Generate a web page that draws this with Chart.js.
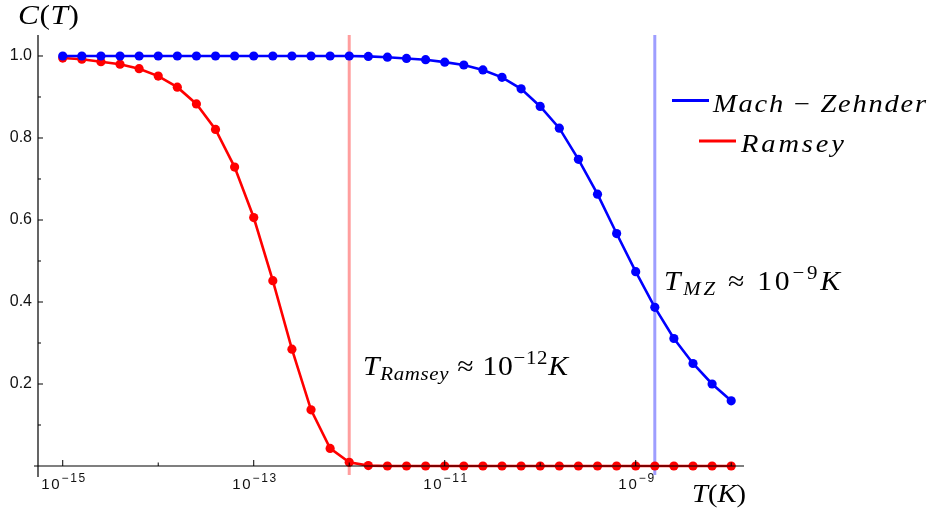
<!DOCTYPE html>
<html>
<head>
<meta charset="utf-8">
<script src="https://cdn.jsdelivr.net/npm/chart.js@4.4.1/dist/chart.umd.min.js"></script>
<style>
html,body{margin:0;padding:0;background:#fff;}
#wrap{width:932px;height:510px;position:relative;}
</style>
</head>
<body>
<div id="wrap"><canvas id="c" width="932" height="510"></canvas></div>
<script>
// ---- data ----
const logT = [-15,-14.8,-14.6,-14.4,-14.2,-14,-13.8,-13.6,-13.4,-13.2,-13,-12.8,-12.6,-12.4,-12.2,-12,
  -11.8,-11.6,-11.4,-11.2,-11,-10.8,-10.6,-10.4,-10.2,-10,-9.8,-9.6,-9.4,-9.2,-9,-8.8,-8.6,-8.4,-8.2,-8];
const mzValues = [1,1,1,1,1,1,1,1,1,1,1,1,1,1,1,1,
  0.999,0.997,0.994,0.991,0.985,0.978,0.966,0.948,0.920,0.877,0.824,0.748,0.663,0.567,0.474,0.387,0.311,0.250,0.200,0.159];
const ramseyValues = [0.995,0.992,0.986,0.980,0.969,0.951,0.924,0.883,0.821,0.729,0.606,0.452,0.285,0.137,0.043,0.009,0.001,
  0,0,0,0,0,0,0,0,0,0,0,0,0,0,0,0,0,0,0];
const seriesLabels = ['Mach \u2212 Zehnder', 'Ramsey'];
const xTickExps = [-15,-14,-13,-12,-11,-10,-9,-8];
const xLabelExps = [-15,-13,-11,-9];
const xTickBase = '10';
const xTickExpLabels = ['\u221215','\u221213','\u221211','\u22129'];
const yTickValues = [0.1,0.2,0.3,0.4,0.5,0.6,0.7,0.8,0.9,1.0];
const yTickLabels = ['', '0.2', '', '0.4', '', '0.6', '', '0.8', '', '1.0'];
const markerExps = [-12, -8.8]; // vertical marker lines (Ramsey, MZ)

const MATH = '"Liberation Serif", "DejaVu Serif", serif';
const SANS = '"Liberation Sans", Arial, sans-serif';

function drawRich(ctx, segs, x, y, targetW, family, maxStretch) {
  family = family || MATH;
  maxStretch = maxStretch || 1;
  let total = 0, n = 0;
  segs.forEach(s => {
    ctx.font = (s.it ? 'italic ' : '') + s.s + 'px ' + family;
    for (const ch of s.t) { total += ctx.measureText(ch).width; n++; }
  });
  const sx = Math.max(1, Math.min(maxStretch, targetW / total));
  const extra = n > 1 ? (targetW - total * sx) / (n - 1) : 0;
  let cx = x;
  ctx.textBaseline = 'alphabetic';
  ctx.textAlign = 'left';
  segs.forEach(s => {
    ctx.font = (s.it ? 'italic ' : '') + s.s + 'px ' + family;
    for (const ch of s.t) {
      ctx.save();
      ctx.translate(cx, y + (s.dy || 0));
      ctx.scale(sx, 1);
      ctx.fillText(ch, 0, 0);
      ctx.restore();
      cx += ctx.measureText(ch).width * sx + extra;
    }
  });
}

const decor = {
  id: 'decor',
  beforeDatasetsDraw(chart) {
    const ctx = chart.ctx, xs = chart.scales.x, a = chart.chartArea;
    const cols = ['rgba(255,0,0,0.38)', 'rgba(0,0,255,0.38)'];
    ctx.save();
    ctx.lineWidth = 3;
    markerExps.forEach((e, i) => {
      const px = xs.getPixelForValue(Math.pow(10, e));
      ctx.strokeStyle = cols[i];
      ctx.beginPath(); ctx.moveTo(px, a.top); ctx.lineTo(px, a.bottom - 2); ctx.stroke();
    });
    ctx.restore();
  },
  afterDatasetsDraw(chart) {
    const ctx = chart.ctx, xs = chart.scales.x, ys = chart.scales.y, a = chart.chartArea;
    const y0 = ys.getPixelForValue(0);
    const x0 = a.left;
    ctx.save();
    ctx.strokeStyle = '#000';
    ctx.lineWidth = 1.2;
    ctx.beginPath();
    ctx.moveTo(x0 - 4, y0); ctx.lineTo(a.right, y0);
    ctx.moveTo(x0, a.top); ctx.lineTo(x0, a.bottom);
    ctx.stroke();
    ctx.lineWidth = 1;
    ctx.beginPath();
    xTickExps.forEach(e => {
      const px = xs.getPixelForValue(Math.pow(10, e));
      const len = xLabelExps.includes(e) ? 6 : 3.5;
      ctx.moveTo(px, y0); ctx.lineTo(px, y0 - len);
    });
    yTickValues.forEach((v, i) => {
      const py = ys.getPixelForValue(v);
      const len = yTickLabels[i] ? 5 : 3;
      ctx.moveTo(x0, py); ctx.lineTo(x0 + len, py);
    });
    ctx.stroke();

    // x tick labels (10 with raised exponent), placed by the x scale
    ctx.fillStyle = '#111';
    xLabelExps.forEach((e, i) => {
      const px = xs.getPixelForValue(Math.pow(10, e));
      const ex = xTickExpLabels[i];
      const W = ex.length > 2 ? 44 : 36;
      drawRich(ctx, [{t: xTickBase, s: 15}, {t: ex, s: 12, dy: -7}], px - W / 2 + 0.5, 489, W, SANS);
    });

    // legend
    ctx.fillStyle = '#000';
    const ds = chart.data.datasets;
    const leg = [{x1: 672, x2: 709, ly: 100.5, tx: 713, tb: 112, w: 213},
                 {x1: 699, x2: 736, ly: 141, tx: 741, tb: 152, w: 103}];
    ds.forEach((d, i) => {
      const L = leg[i];
      ctx.strokeStyle = d.borderColor; ctx.lineWidth = 3.2;
      ctx.beginPath(); ctx.moveTo(L.x1, L.ly); ctx.lineTo(L.x2, L.ly); ctx.stroke();
      const parts = d.label.split(' \u2212 ');
      let segs;
      if (parts.length === 2) {
        segs = [{t: parts[0], it: true, s: 25}, {t: ' \u2212 ', it: false, s: 25}, {t: parts[1], it: true, s: 25}];
      } else segs = [{t: d.label, it: true, s: 25}];
      drawRich(ctx, segs, L.tx, L.tb, L.w, MATH, 1.14);
    });

    // axis titles
    drawRich(ctx, [{t:'C',it:true,s:28},{t:'(',s:28},{t:'T',it:true,s:28},{t:')',s:28}], 18, 24, 61, MATH, 1.12);
    drawRich(ctx, [{t:'T',it:true,s:26},{t:'(',s:26},{t:'K',it:true,s:26},{t:')',s:26}], 692, 502, 54, MATH, 1.12);

    // annotations
    drawRich(ctx, [{t:'T',it:true,s:27},{t:'Ramsey',it:true,s:19,dy:5},{t:' \u2248 ',s:27},{t:'10',s:27},
      {t:'\u221212',s:19,dy:-11},{t:'K',it:true,s:27}], 363, 375, 205, MATH, 1.1);
    drawRich(ctx, [{t:'T',it:true,s:27},{t:'MZ',it:true,s:19,dy:5},{t:' \u2248 ',s:27},{t:'10',s:27},
      {t:'\u22129',s:19,dy:-11},{t:'K',it:true,s:27}], 664, 290, 176, MATH, 1.1);
    ctx.restore();
  }
};

const mkData = vals => vals.map((v, i) => ({x: Math.pow(10, logT[i]), y: v}));

new Chart(document.getElementById('c'), {
  type: 'line',
  data: {
    datasets: [
      {label: seriesLabels[0], data: mkData(mzValues), borderColor: '#0000ff', backgroundColor: '#0000ff',
       borderWidth: 2.6, pointRadius: 4.6, pointBorderWidth: 0, pointBackgroundColor: '#0000ff', tension: 0, fill: false},
      {label: seriesLabels[1], data: mkData(ramseyValues), borderColor: '#ff0000', backgroundColor: '#ff0000',
       borderWidth: 2.6, pointRadius: 4.6, pointBorderWidth: 0, pointBackgroundColor: '#ff0000', tension: 0, fill: false}
    ]
  },
  options: {
    responsive: false,
    animation: false,
    devicePixelRatio: 1,
    layout: {padding: {left: 0, right: 188, top: 35, bottom: 0}},
    plugins: {legend: {display: false}, tooltip: {enabled: false}},
    scales: {
      x: {
        type: 'logarithmic',
        min: Math.pow(10, -15.259),
        max: Math.pow(10, -7.866),
        grid: {display: false, drawTicks: false},
        border: {display: false},
        afterBuildTicks: s => { s.ticks = xTickExps.map(e => ({value: Math.pow(10, e)})); },
        afterFit: s => { s.height = 33; },
        ticks: {display: false}
      },
      y: {
        min: -0.0268,
        max: 1.0512,
        grid: {display: false, drawTicks: false},
        border: {display: false},
        afterBuildTicks: s => { s.ticks = yTickValues.map(v => ({value: v})); },
        afterFit: s => { s.width = 38; },
        ticks: {
          autoSkip: false, padding: 6, color: '#111',
          font: {family: SANS, size: 16},
          callback: (v) => {
            const k = yTickValues.findIndex(t => Math.abs(t - v) < 1e-6);
            return k >= 0 ? yTickLabels[k] : '';
          }
        }
      }
    }
  },
  plugins: [decor]
});
</script>
</body>
</html>
